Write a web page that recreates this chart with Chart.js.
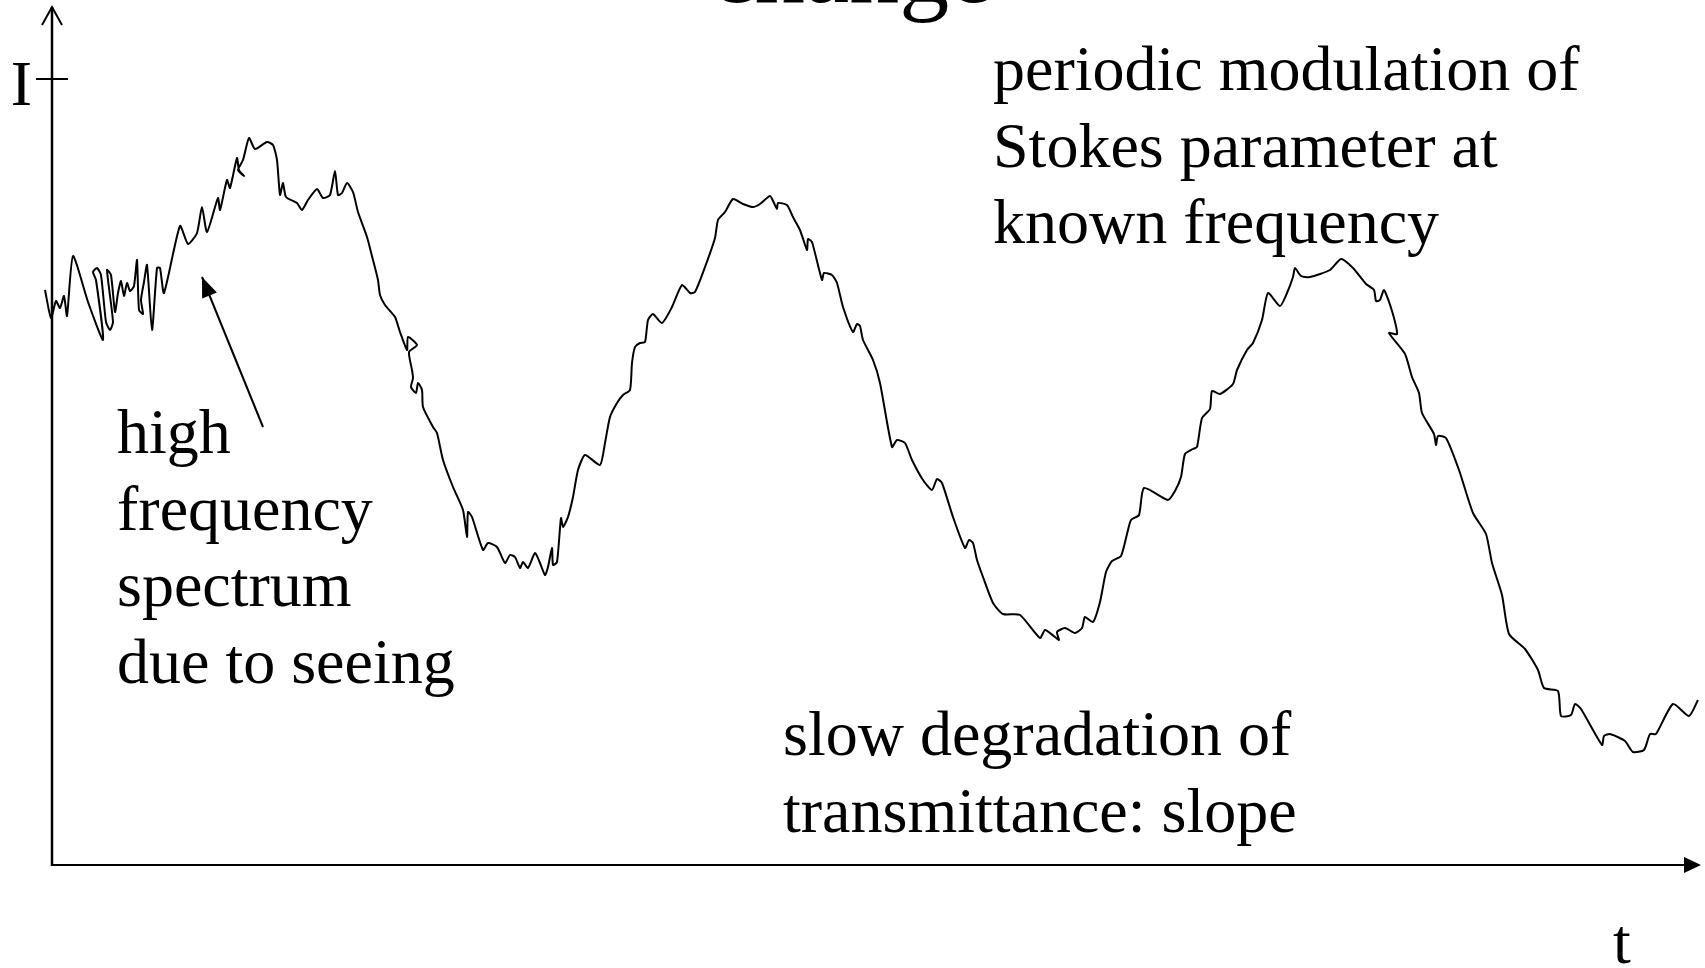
<!DOCTYPE html>
<html>
<head>
<meta charset="utf-8">
<title>Intensity change</title>
<script src="https://cdn.jsdelivr.net/npm/chart.js@4.4.1/dist/chart.umd.min.js"></script>
<style>
  html, body { margin: 0; padding: 0; background: #fff; }
  canvas { display: block; }
</style>
</head>
<body>
<canvas id="chart" width="1705" height="968"></canvas>
<script>
// time (arbitrary units)
const timeValues = [
  -0.7, -0.1, 0.4, 0.8, 1.2, 1.5, 2.1, 3.6, 5.1, 4.4, 4.1, 4.5, 4.9, 5.4, 5.8, 6.1, 5.5, 5.9, 6.3, 6.6,
  6.9, 7.2, 7.5, 7.8, 8.2, 8.5, 8.7, 9.1, 8.9, 9.2, 9.5, 10.0, 10.5, 10.8, 11.2, 12.8, 13.6, 14.5, 15.0, 15.5,
  16.6, 16.8, 17.5, 17.8, 18.5, 18.7, 19.2, 18.6, 19.1, 19.7, 20.3, 21.5, 22.1, 22.5, 22.8, 23.1, 23.4, 24.5, 25.0, 25.6,
  26.5, 27.1, 27.8, 28.3, 28.6, 29.0, 29.5, 30.1, 30.6, 31.5, 32.1, 32.6, 32.8, 33.3, 34.3, 34.8, 35.5, 35.6, 36.5, 35.7,
  36.0, 36.1, 35.9, 36.4, 36.6, 37.0, 37.1, 38.1, 38.5, 39.1, 40.1, 41.1, 41.5, 41.6, 42.0, 43.1, 43.6, 44.5, 45.3, 45.8,
  46.3, 46.8, 47.1, 47.6, 48.3, 48.8, 49.3, 49.6, 50.0, 50.1, 50.5, 50.9, 51.1, 51.6, 52.1, 52.6, 53.3, 54.8, 55.3, 55.8,
  56.5, 57.1, 57.8, 58.0, 58.3, 58.8, 59.3, 59.6, 60.1, 61.0, 62.0, 63.0, 63.8, 64.3, 65.3, 66.3, 66.6, 67.3, 68.1, 69.1,
  70.1, 70.8, 71.8, 72.2, 72.5, 72.6, 73.5, 74.1, 74.8, 75.5, 75.6, 76.0, 77.0, 77.2, 78.0, 78.5, 79.1, 80.1, 80.5, 80.8,
  81.1, 82.1, 82.8, 84.0, 84.5, 85.3, 86.0, 87.1, 88.0, 88.5, 89.0, 90.1, 91.3, 91.7, 92.1, 92.5, 93.1, 94.1, 95.1, 96.8,
  98.8, 99.3, 100.3, 100.7, 100.5, 101.3, 102.3, 103.0, 103.3, 104.1, 104.8, 105.4, 106.0, 106.9, 107.5, 107.9, 108.7, 109.2, 111.6, 112.3,
  112.9, 113.3, 114.1, 114.5, 115.0, 115.8, 116.0, 116.8, 118.1, 118.5, 119.5, 120.1, 121.0, 121.6, 122.8, 123.5, 124.1, 124.3, 124.9, 125.8,
  127.8, 128.9, 130.1, 131.4, 132.2, 132.4, 132.8, 133.2, 134.0, 134.5, 133.7, 135.3, 136.0, 136.7, 137.0, 138.2, 138.4, 138.6, 139.4, 140.7,
  142.1, 143.4, 144.0, 145.0, 145.7, 147.3, 148.6, 149.2, 150.6, 150.9, 151.9, 152.3, 152.9, 155.0, 155.2, 155.8, 157.3, 158.1, 159.2, 159.8,
  160.4, 162.1, 163.7, 164.6
]
// intensity I (arbitrary units)
const intensityValues = [
  57.5, 54.7, 56.4, 55.7, 56.9, 54.9, 60.9, 56.3, 52.5, 58.5, 59.3, 59.7, 59.0, 54.3, 53.5, 54.3, 59.5, 59.0, 55.3, 57.2,
  58.4, 56.9, 58.2, 57.4, 57.9, 60.5, 55.5, 55.1, 56.5, 58.3, 60.0, 53.5, 59.7, 59.7, 57.2, 63.9, 62.1, 63.2, 65.8, 63.3,
  66.7, 65.5, 68.5, 67.7, 70.7, 69.5, 68.9, 69.5, 70.5, 72.7, 71.6, 72.3, 72.0, 70.5, 67.0, 68.2, 66.8, 66.2, 65.5, 66.5,
  67.6, 66.7, 67.0, 69.4, 67.0, 67.2, 68.2, 67.3, 65.3, 62.8, 60.5, 58.5, 57.0, 56.0, 54.8, 53.3, 51.5, 52.8, 52.0, 51.3,
  49.5, 48.7, 47.8, 47.2, 48.2, 47.5, 45.8, 43.8, 43.2, 40.5, 37.8, 35.5, 32.8, 35.3, 34.8, 31.5, 32.2, 31.8, 30.2, 31.0,
  30.8, 29.7, 30.3, 29.7, 31.2, 30.2, 29.0, 29.8, 31.7, 30.0, 30.3, 34.7, 33.8, 34.8, 36.8, 39.5, 41.0, 40.0, 42.2, 44.8,
  46.2, 47.0, 47.5, 50.2, 51.8, 52.2, 52.3, 54.5, 55.1, 54.2, 55.8, 58.0, 57.2, 57.3, 59.8, 62.7, 64.5, 65.3, 66.6, 66.1,
  65.8, 66.1, 66.9, 66.2, 65.6, 66.2, 66.0, 64.8, 63.5, 61.5, 62.6, 62.3, 58.5, 59.2, 59.0, 58.2, 55.8, 53.3, 54.1, 53.9,
  52.5, 50.5, 48.2, 41.8, 42.5, 42.2, 40.5, 38.5, 37.5, 38.6, 38.2, 34.8, 31.7, 32.5, 32.2, 30.5, 28.8, 26.2, 25.1, 25.0,
  22.7, 23.5, 22.8, 22.5, 23.3, 23.7, 23.2, 23.7, 24.8, 24.3, 26.3, 29.3, 30.4, 30.9, 33.1, 34.5, 35.0, 37.7, 36.5, 37.4,
  38.8, 41.1, 41.6, 41.8, 44.7, 45.6, 47.4, 47.1, 48.1, 49.5, 51.5, 52.2, 54.5, 57.2, 55.9, 57.2, 58.8, 59.7, 58.9, 58.8,
  59.5, 60.6, 59.7, 58.1, 57.5, 56.4, 56.5, 57.5, 55.4, 53.1, 53.2, 51.1, 48.8, 47.2, 45.2, 43.1, 42.0, 42.9, 42.7, 39.5,
  35.2, 33.1, 30.2, 27.0, 23.1, 21.6, 19.5, 17.7, 17.4, 14.9, 15.0, 16.1, 15.6, 12.0, 12.9, 13.1, 12.4, 11.3, 11.5, 13.1,
  13.1, 16.1, 14.9, 16.5
]

const tMax = 164.8
const iMax = 85.7
const iTick = 78.6
const axisLabels = { y: 'I', x: 't' }
const titleText = 'change'

// callout arrow: tail and head in (t, I)
const arrowTail = [21.1, 43.8]
const arrowHead = [15.0, 58.8]

const noteModulation = ['periodic modulation of', 'Stokes parameter at', 'known frequency']
const noteSeeing = ['high', 'frequency', 'spectrum', 'due to seeing']
const noteSlope = ['slow degradation of', 'transmittance: slope']

const serif = '"Liberation Serif", "Times New Roman", "DejaVu Serif", serif'

function drawArrowHead(ctx, fromX, fromY, toX, toY, len, half) {
  const a = Math.atan2(toY - fromY, toX - fromX)
  ctx.beginPath()
  ctx.moveTo(toX, toY)
  ctx.lineTo(toX - len * Math.cos(a) + half * Math.sin(a), toY - len * Math.sin(a) - half * Math.cos(a))
  ctx.lineTo(toX - len * Math.cos(a) - half * Math.sin(a), toY - len * Math.sin(a) + half * Math.cos(a))
  ctx.closePath()
  ctx.fill()
}

const sketchPlugin = {
  id: 'sketch',
  beforeDatasetsDraw(chart) {
    const { ctx, scales: { x, y } } = chart
    const x0 = x.getPixelForValue(0)
    const y0 = y.getPixelForValue(0)
    const yTop = 7
    const xEnd = 1701
    ctx.save()
    ctx.strokeStyle = '#000'
    ctx.fillStyle = '#000'

    // vertical axis with open arrow
    ctx.lineWidth = 2.5
    ctx.beginPath()
    ctx.moveTo(x0, y0 + 1)
    ctx.lineTo(x0, yTop)
    ctx.stroke()
    ctx.lineWidth = 2
    ctx.beginPath()
    ctx.moveTo(x0 - 10, yTop + 18)
    ctx.lineTo(x0, yTop)
    ctx.lineTo(x0 + 10, yTop + 18)
    ctx.stroke()

    // tick for I
    const yt = y.getPixelForValue(iTick)
    ctx.beginPath()
    ctx.moveTo(x0 - 16, yt)
    ctx.lineTo(x0 + 16, yt)
    ctx.stroke()

    // horizontal axis with filled arrow
    ctx.beginPath()
    ctx.moveTo(x0 - 1, y0)
    ctx.lineTo(xEnd - 14, y0)
    ctx.stroke()
    drawArrowHead(ctx, x0, y0, xEnd, y0, 17, 8)

    // callout arrow
    const ax1 = x.getPixelForValue(arrowTail[0]), ay1 = y.getPixelForValue(arrowTail[1])
    const ax2 = x.getPixelForValue(arrowHead[0]), ay2 = y.getPixelForValue(arrowHead[1])
    ctx.lineWidth = 2
    ctx.beginPath()
    ctx.moveTo(ax1, ay1)
    ctx.lineTo(ax2, ay2)
    ctx.stroke()
    drawArrowHead(ctx, ax1, ay1, ax2, ay2, 20, 8)
    ctx.restore()
  },
  afterDraw(chart) {
    const { ctx, scales: { x, y } } = chart
    const x0 = x.getPixelForValue(0)
    const y0 = y.getPixelForValue(0)
    ctx.save()
    ctx.fillStyle = '#000'
    ctx.textBaseline = 'alphabetic'

    ctx.font = '100px ' + serif
    ctx.textAlign = 'center'
    ctx.fillText(titleText, 852, 2)

    ctx.font = '64px ' + serif
    ctx.textAlign = 'right'
    ctx.fillText(axisLabels.y, x0 - 20, y.getPixelForValue(iTick) + 26)
    ctx.textAlign = 'center'
    ctx.fillText(axisLabels.x, 1622, y0 + 98)

    ctx.textAlign = 'left'
    const lineGap = 76.5
    noteModulation.forEach((s, i) => ctx.fillText(s, 993, 90 + i * lineGap))
    noteSeeing.forEach((s, i) => ctx.fillText(s, 117, 453 + i * lineGap))
    noteSlope.forEach((s, i) => ctx.fillText(s, 783, 755 + i * lineGap))
    ctx.restore()
  }
}

const canvas = document.getElementById('chart')
const points = timeValues.map((t, i) => ({ x: t, y: intensityValues[i] }))

new Chart(canvas.getContext('2d'), {
  type: 'line',
  data: {
    datasets: [{
      label: 'I(t)',
      data: points,
      borderColor: '#000',
      borderWidth: 2,
      pointRadius: 0,
      tension: 0.2,
      fill: false,
      clip: false
    }]
  },
  options: {
    responsive: false,
    animation: false,
    layout: { padding: { left: 52, right: 5, top: 8, bottom: 103 } },
    plugins: {
      legend: { display: false },
      tooltip: { enabled: false }
    },
    scales: {
      x: { type: 'linear', min: 0, max: tMax, display: false },
      y: { type: 'linear', min: 0, max: iMax, display: false }
    }
  },
  plugins: [sketchPlugin]
})
</script>
</body>
</html>
